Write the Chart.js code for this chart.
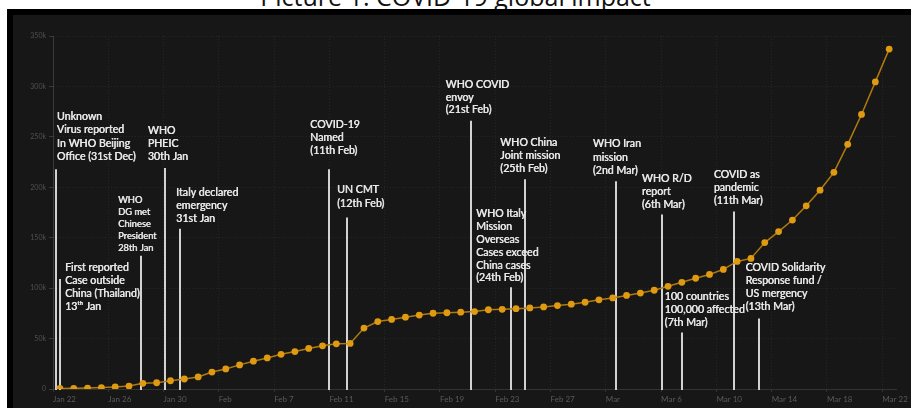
<!DOCTYPE html>
<html>
<head>
<meta charset="utf-8">
<script src="https://cdn.jsdelivr.net/npm/chart.js@4.4.1/dist/chart.umd.min.js"></script>
<style>
html, body { margin: 0; padding: 0; background: #fff; width: 911px; height: 408px; overflow: hidden; }
#title { position: absolute; left: 0; width: 911px; top: -16px; line-height: 25px; text-align: center; font-family: "Open Sans", sans-serif; font-size: 25px; color: #111; white-space: nowrap; }
#frame { position: absolute; left: 7px; top: 9px; width: 904px; height: 399px; background: #000; }
#panel { position: absolute; left: 13px; top: 15px; width: 898px; height: 393px; background: #171717; }
</style>
</head>
<body>
<div id="title">Picture 1: COVID-19 global impact</div>
<div id="frame"></div>
<div id="panel"><canvas id="covidChart" width="898" height="393"></canvas></div>
<script>
// confirmed cases (thousands), one value per day from Jan 22 to Mar 22
const cases = [
    0.6, 0.7, 0.9, 1.4, 2.1, 2.9, 5.6, 6.2, 8.2, 9.9,
    12.0, 16.8, 19.9, 23.9, 27.6, 30.8, 34.4, 37.1, 40.2, 42.8,
    44.8, 45.2, 60.4, 66.9, 69.0, 71.2, 73.3, 75.1, 75.6, 76.2,
    76.8, 78.6, 79.0, 79.6, 80.4, 81.4, 82.7, 84.1, 86.0, 88.4,
    90.3, 92.8, 95.1, 97.9, 101.8, 105.8, 109.8, 113.6, 118.6, 126.5,
    129.5, 145.2, 156.1, 167.5, 181.6, 197.1, 214.8, 242.6, 272.2, 304.5,
    337.0
];

// x tick labels, one every 4 days
const xTickLabels = ['Jan 22', 'Jan 26', 'Jan 30', 'Feb', 'Feb 7', 'Feb 11', 'Feb 15', 'Feb 19',
    'Feb 23', 'Feb 27', 'Mar', 'Mar 6', 'Mar 10', 'Mar 14', 'Mar 18', 'Mar 22'];
const yTickLabels = ['0', '50k', '100k', '150k', '200k', '250k', '300k', '350k'];

// timeline events: day index of the marker and height (thousands) where its line starts
const eventDay = [-0.3, 0, 5.9, 7.6, 8.7, 19.5, 20.8, 29.75, 32.65, 33.65, 40.2, 43.55, 45, 48.75, 50.6];
const eventTop = [218, 109, 132, 219, 159, 218, 170, 266, 101, 208, 206, 173, 56, 176, 70];
const eventText = [
    ['Unknown', 'Virus reported', 'In WHO Beijing', 'Office (31st Dec)'],
    ['First reported', 'Case outside', 'China (Thailand)', '13ᵗʰ Jan'],
    ['WHO', 'DG met', 'Chinese', 'President', '28th Jan'],
    ['WHO', 'PHEIC', '30th Jan'],
    ['Italy declared', 'emergency', '31st Jan'],
    ['COVID-19', 'Named', '(11th Feb)'],
    ['UN CMT', '(12th Feb)'],
    ['WHO COVID', 'envoy', '(21st Feb)'],
    ['WHO Italy', 'Mission', 'Overseas', 'Cases exceed', 'China cases', '(24th Feb)'],
    ['WHO China', 'Joint mission', '(25th Feb)'],
    ['WHO Iran', 'mission', '(2nd Mar)'],
    ['WHO R/D', 'report', '(6th Mar)'],
    ['100 countries', '100,000 affected', '(7th Mar)'],
    ['COVID as', 'pandemic', '(11th Mar)'],
    ['COVID Solidarity', 'Response fund /', 'US mergency', '(13th Mar)']
];

// where each text block sits: [day, thousands of first line, font px, line step px]
const notePlace = [
    [-0.22, 270, 10.6, 13.3], [0.36, 120, 10.6, 13], [4.2, 187, 9.3, 12], [6.35, 256, 10.6, 12.7],
    [8.4, 195, 10.6, 13], [18.1, 262, 10.6, 13], [20.05, 198, 10.6, 14], [27.9, 302, 10.6, 12.7],
    [30.1, 173.5, 10.6, 12.8], [31.85, 244, 10.6, 13], [38.55, 243, 10.6, 13.3], [42.1, 209, 10.6, 13],
    [43.75, 92, 10.6, 13], [47.3, 213, 10.6, 13], [49.6, 120, 10.6, 12.8]
];

const eventNotes = {
    id: 'eventNotes',
    beforeDatasetsDraw(chart) {
        const { ctx, scales: { x, y } } = chart;
        ctx.save();
        ctx.strokeStyle = '#d2d2d2';
        ctx.lineWidth = 2;
        eventDay.forEach((d, i) => {
            const px = Math.round(x.getPixelForValue(d));
            ctx.beginPath();
            ctx.moveTo(px, y.getPixelForValue(eventTop[i]));
            ctx.lineTo(px, y.getPixelForValue(0) + 1);
            ctx.stroke();
        });
        ctx.fillStyle = '#e8e8e8';
        ctx.textAlign = 'left';
        ctx.textBaseline = 'middle';
        eventText.forEach((lines, i) => {
            const [d, v, size, step] = notePlace[i];
            ctx.font = `${size}px Lato, "Open Sans", sans-serif`;
            const tx = x.getPixelForValue(d);
            let ty = y.getPixelForValue(v);
            lines.forEach(line => {
                // drawn twice, half a pixel apart, to get the heavier look of the original
                ctx.fillText(line, tx, ty);
                ctx.fillText(line, tx + 0.5, ty);
                ty += step;
            });
        });
        ctx.restore();
    }
};

const tickDays = xTickLabels.map((_, i) => i * 4 - 0.5);

new Chart(document.getElementById('covidChart'), {
    type: 'line',
    data: {
        datasets: [{
            data: cases.map((v, i) => ({ x: i, y: v })),
            borderColor: '#b07a0e',
            borderWidth: 1.5,
            backgroundColor: '#e09a12',
            pointBackgroundColor: '#e09a12',
            pointBorderWidth: 0,
            pointRadius: 3.4,
            tension: 0
        }]
    },
    options: {
        responsive: false,
        animation: false,
        layout: { padding: { top: 21, right: 14, left: 0, bottom: 0 } },
        plugins: { legend: { display: false }, tooltip: { enabled: false } },
        scales: {
            x: {
                type: 'linear',
                min: -0.5,
                max: 60.5,
                afterBuildTicks: s => { s.ticks = tickDays.map(v => ({ value: v })); },
                afterFit: s => { s.height = 19; },
                grid: { color: '#262626', tickColor: '#333', tickLength: 3 },
                border: { color: '#333', dash: [1, 2] },
                ticks: {
                    autoSkip: false,
                    maxRotation: 0,
                    align: 'start',
                    padding: 3,
                    color: '#5a5a5a',
                    font: { family: 'Lato', size: 8 },
                    callback: (v, i) => xTickLabels[i]
                }
            },
            y: {
                min: 0,
                max: 350,
                afterBuildTicks: s => { s.ticks = yTickLabels.map((_, i) => ({ value: i * 50 })); },
                afterFit: s => { s.width = 40; },
                grid: { color: '#262626', tickColor: '#3a3a3a', tickLength: 4 },
                border: { color: '#3a3a3a', dash: [1, 2] },
                ticks: {
                    padding: 3,
                    color: '#505050',
                    font: { family: 'Lato', size: 7 },
                    callback: (v, i) => yTickLabels[i]
                }
            }
        }
    },
    plugins: [eventNotes]
});
</script>
</body>
</html>
